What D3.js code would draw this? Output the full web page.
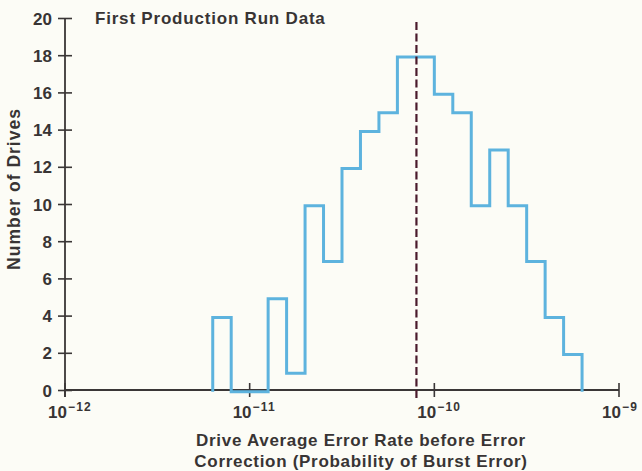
<!DOCTYPE html>
<html>
<head>
<meta charset="utf-8">
<script src="https://cdn.jsdelivr.net/npm/d3@7/dist/d3.min.js"></script>
<style>
  html, body { margin: 0; padding: 0; background: #fcfcf6; }
  svg { display: block; }
  text { font-family: "Liberation Sans", Arial, Helvetica, sans-serif; font-weight: bold; fill: #383434; }
</style>
</head>
<body>
<svg id="chart" width="642" height="471"></svg>
<script>
// Histogram of per-drive average error rate (log10 bins, 0.1 decade wide)
const binLowerExp = [-11.2, -11.1, -11.0, -10.9, -10.8, -10.7, -10.6, -10.5, -10.4, -10.3,
                     -10.2, -10.1, -10.0, -9.9, -9.8, -9.7, -9.6, -9.5, -9.4, -9.3];
const binWidthExp = 0.1;
const driveCounts = [4, 0, 0, 5, 1, 10, 7, 12, 14, 15,
                     18, 18, 16, 15, 10, 13, 10, 7, 4, 2];
const medianRate = 8e-11;

const xTickExps = [-12, -11, -10, -9];
const yTicks = [0, 2, 4, 6, 8, 10, 12, 14, 16, 18, 20];

const titleText = "First Production Run Data";
const yLabel = "Number of Drives";
const xLabelLines = ["Drive Average Error Rate before Error", "Correction (Probability of Burst Error)"];

const svg = d3.select("#chart");
const axisColor = "#3a3636";

const x = d3.scaleLog().domain([1e-12, 1e-9]).range([65, 619]);
const y = d3.scaleLinear().domain([0, 20]).range([390, 18]);

// Step outline of the histogram
const pts = [];
binLowerExp.forEach((e, i) => {
  const x0 = Math.pow(10, e), x1 = Math.pow(10, e + binWidthExp);
  if (i === 0) pts.push([x0, 0]);
  pts.push([x0, driveCounts[i]]);
  pts.push([x1, driveCounts[i]]);
  if (i === binLowerExp.length - 1) pts.push([x1, 0]);
});
const line = d3.line().x(d => x(d[0])).y(d => y(d[1]));

// Y axis
const yAxis = svg.append("g").attr("transform", "translate(65,0)")
  .call(d3.axisLeft(y).tickValues(yTicks).tickSize(7).tickPadding(6));
yAxis.select(".domain").remove();
yAxis.selectAll(".tick line").attr("x1", 7).attr("x2", -7).attr("stroke", axisColor).attr("stroke-width", 1.6);
yAxis.selectAll(".tick text").attr("font-size", 17).attr("font-family", null).attr("fill", null).attr("dy", "0.36em");
svg.append("line").attr("x1", 65).attr("x2", 65).attr("y1", y(20)).attr("y2", 397)
  .attr("stroke", axisColor).attr("stroke-width", 1.8);

// X axis
svg.append("line").attr("x1", 65).attr("x2", 619).attr("y1", y(0)).attr("y2", y(0))
  .attr("stroke", axisColor).attr("stroke-width", 1.8);
const xt = svg.append("g").selectAll("g").data(xTickExps).join("g")
  .attr("transform", d => `translate(${x(Math.pow(10, d))},${y(0)})`);
xt.append("line").attr("y1", -7).attr("y2", 7).attr("stroke", axisColor).attr("stroke-width", 1.6);
const xl = xt.append("text").attr("y", 28).attr("x", -17);
xl.append("tspan").attr("font-size", 17).text("10");
xl.append("tspan").attr("dy", -7).attr("dx", 1).attr("font-size", 12).attr("letter-spacing", 1.2)
  .text(d => "\u2212" + Math.abs(d));

// Histogram outline
svg.append("path").datum(pts).attr("d", line)
  .attr("transform", "translate(0,1.8)")
  .attr("fill", "none").attr("stroke", "#5db3de").attr("stroke-width", 3)
  .attr("stroke-linejoin", "miter");

// Median marker
svg.append("line")
  .attr("x1", x(medianRate)).attr("x2", x(medianRate))
  .attr("y1", 22).attr("y2", 398)
  .attr("stroke", "#4a1a2c").attr("stroke-width", 2.2).attr("stroke-dasharray", "8,3.5");

// Labels
svg.append("text").attr("x", 95).attr("y", 24).attr("font-size", 17)
  .attr("letter-spacing", 0.8).text(titleText);
svg.append("text").attr("transform", "translate(20,189) rotate(-90)")
  .attr("text-anchor", "middle").attr("font-size", 17.5).attr("letter-spacing", 1).text(yLabel);
svg.append("g").selectAll("text").data(xLabelLines).join("text")
  .attr("x", 361).attr("y", (d, i) => 446 + i * 21)
  .attr("text-anchor", "middle").attr("font-size", 17).attr("letter-spacing", 0.7).text(d => d);
</script>
</body>
</html>
